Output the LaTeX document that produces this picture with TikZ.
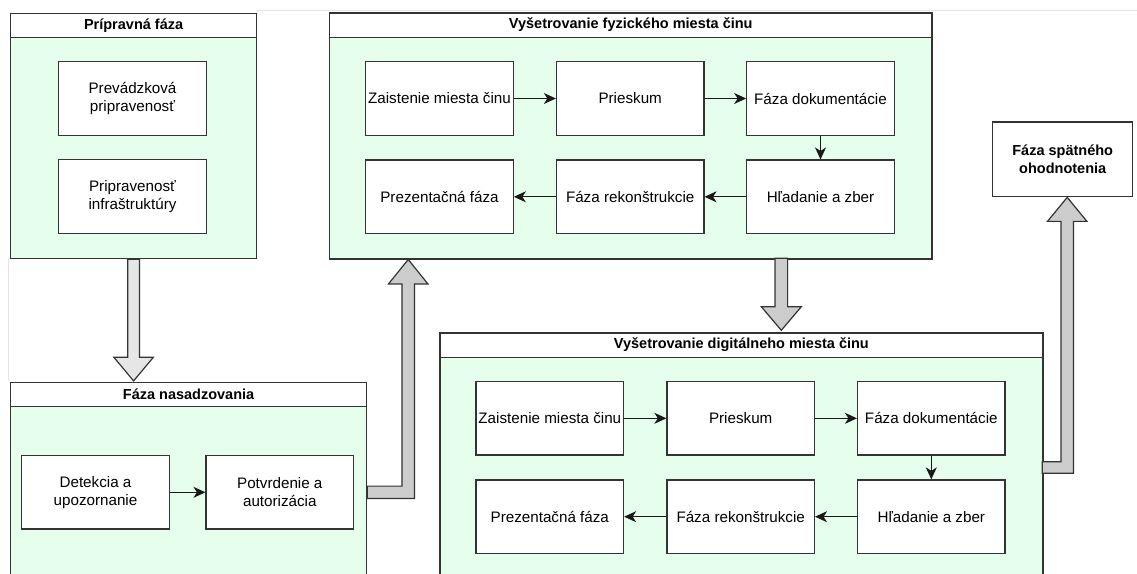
\documentclass[tikz,border=0pt]{standalone}
\usepackage{fontspec}
\setmainfont{Liberation Sans}
\usetikzlibrary{arrows.meta,calc}
\definecolor{cgreen}{HTML}{E6FFED}
\definecolor{lgray}{HTML}{E6E6E6}
\definecolor{mgray}{HTML}{CCCCCC}
\definecolor{canvasline}{HTML}{E4E4E4}
\tikzset{
  cont/.style={draw=black!80, fill=cgreen, line width=1.2pt, inner sep=0pt, anchor=north west},
  hdr/.style={draw=black!80, fill=white, line width=1.2pt, inner sep=0pt, anchor=north west,
    minimum height=24.3, font=\bfseries\fontsize{14.5}{17}\selectfont},
  box/.style={draw=black!80, fill=white, line width=1.2pt, minimum width=147.5, minimum height=73.5,
    inner sep=0pt, align=center, font=\fontsize{15.2}{17.7}\selectfont},
  conn/.style={-{Stealth[length=12pt,width=11pt,inset=3.5pt]}, line width=1.2pt, draw=black!90},
  blk/.style={draw=black!80, line width=1.2pt, line join=miter},
}
\begin{document}
\begin{tikzpicture}[x=1pt,y=-1pt]
\useasboundingbox (0,0) rectangle (1137,573);
\clip (0,0) rectangle (1137,573);
\fill[white] (0,0) rectangle (1137,573);
% faint canvas lines
\draw[canvasline, line width=1.2pt] (256,10.5) -- (1137,10.5);
\draw[canvasline, line width=1.2pt] (8.3,258) -- (8.3,381);

% Pripravna faza
\node[cont, minimum width=246, minimum height=245.3] (prep) at (10,12.7) {};
\node[hdr, minimum width=246] (prepH) at (prep.north west) {Prípravná fáza};
\node[box] (prev) at (132.5,98.5) {Prevádzková\\pripravenosť};
\node[box] (infra) at (132.5,196.6) {Pripravenosť\\infraštruktúry};

% Vysetrovanie fyzickeho miesta cinu
\node[cont, minimum width=602.3, minimum height=246] (phys) at (329,12.3) {};
\node[hdr, minimum width=602.3] (physH) at (phys.north west) {Vyšetrovanie fyzického miesta činu};
\node[box] (f1) at (439.5,98.5) {Zaistenie miesta činu};
\node[box] (f2) at (630.2,98.5) {Prieskum};
\node[box] (f3) at (820.5,98.5) {Fáza dokumentácie};
\node[box] (f4) at (820.5,196.8) {Hľadanie a zber};
\node[box] (f5) at (630.2,196.8) {Fáza rekonštrukcie};
\node[box] (f6) at (439.5,196.8) {Prezentačná fáza};
\draw[conn] (f1) -- (f2);
\draw[conn] (f2) -- (f3);
\draw[conn] (f3) -- (f4);
\draw[conn] (f4) -- (f5);
\draw[conn] (f5) -- (f6);

% Faza spatneho ohodnotenia
\node[box, minimum width=140, minimum height=74.7, font=\bfseries\fontsize{14.5}{18}\selectfont] (spat) at (1062.7,159.4) {Fáza spätného\\ohodnotenia};

% Faza nasadzovania
\node[cont, minimum width=356, minimum height=260] (nasad) at (10,381.7) {};
\node[hdr, minimum width=356] (nasadH) at (nasad.north west) {Fáza nasadzovania};
\node[box] (det) at (95.5,492.3) {Detekcia a\\upozornanie};
\node[box] (potv) at (279.8,492.3) {Potvrdenie a\\autorizácia};
\draw[conn] (det) -- (potv);

% Vysetrovanie digitalneho miesta cinu
\node[cont, minimum width=603, minimum height=300] (dig) at (439.3,332.3) {};
\node[hdr, minimum width=603] (digH) at (dig.north west) {Vyšetrovanie digitálneho miesta činu};
\node[box] (d1) at (549.8,418.3) {Zaistenie miesta činu};
\node[box] (d2) at (740.7,418.3) {Prieskum};
\node[box] (d3) at (931.3,418.3) {Fáza dokumentácie};
\node[box] (d4) at (931.3,516.7) {Hľadanie a zber};
\node[box] (d5) at (740.7,516.7) {Fáza rekonštrukcie};
\node[box] (d6) at (549.8,516.7) {Prezentačná fáza};
\draw[conn] (d1) -- (d2);
\draw[conn] (d2) -- (d3);
\draw[conn] (d3) -- (d4);
\draw[conn] (d4) -- (d5);
\draw[conn] (d5) -- (d6);

% Block arrow 1: prep -> nasad
\coordinate (S1) at (prep.south);
\coordinate (T1) at (prep.south |- nasad.north);
\draw[blk, fill=lgray] ($(S1)+(-5.8,0)$) -- ($(T1)+(-5.8,-24.4)$) -- ($(T1)+(-19.7,-24.4)$)
  -- ($(T1)+(0,-0.8)$) -- ($(T1)+(19.7,-24.4)$) -- ($(T1)+(5.8,-24.4)$) -- ($(S1)+(5.8,0)$) -- cycle;

% Block arrow 2: nasad -> phys
\coordinate (R2) at (potv.east -| nasad.east);
\coordinate (X2) at ($(R2)+(41,0)$);
\coordinate (T2) at (X2 |- phys.south);
\draw[blk, fill=mgray] ($(R2)+(0,-6.2)$) -- ($(R2)+(34.7,-6.2)$) -- ($(T2)+(-6.3,24.4)$)
  -- ($(T2)+(-19.7,24.4)$) -- (T2) -- ($(T2)+(19.7,24.4)$) -- ($(T2)+(6.3,24.4)$)
  -- ($(R2)+(47.3,6.2)$) -- ($(R2)+(0,6.2)$) -- cycle;

% Block arrow 3: phys -> dig
\coordinate (S3) at (781.3,258.3);
\coordinate (T3) at (S3 |- dig.north);
\draw[blk, fill=mgray] ($(S3)+(-6.3,0)$) -- ($(T3)+(-6.3,-25.6)$) -- ($(T3)+(-20,-25.6)$)
  -- ($(T3)+(0,-2)$) -- ($(T3)+(20,-25.6)$) -- ($(T3)+(6.3,-25.6)$) -- ($(S3)+(6.3,0)$) -- cycle;

% Block arrow 4: dig -> spat
\coordinate (R4) at (1042.3,467.5);
\coordinate (X4) at (1067.2,467.5);
\coordinate (T4) at (X4 |- spat.south);
\draw[blk, fill=mgray] ($(R4)+(0,-5.8)$) -- ($(X4)+(-6.2,-5.8)$) -- ($(T4)+(-6.2,24)$)
  -- ($(T4)+(-19.7,24)$) -- (T4) -- ($(T4)+(19.7,24)$) -- ($(T4)+(6.2,24)$)
  -- ($(X4)+(6.2,5.8)$) -- ($(R4)+(0,5.8)$) -- cycle;
\end{tikzpicture}
\end{document}
